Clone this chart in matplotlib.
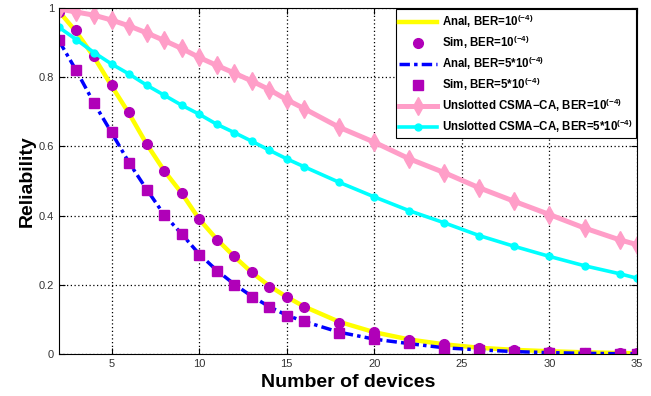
from matplotlib import pyplot as plt

plt.rcParams['font.family'] = ['Liberation Sans', 'DejaVu Sans']
plt.rcParams['mathtext.fontset'] = 'custom'
plt.rcParams['mathtext.rm'] = 'Liberation Sans:bold'
plt.rcParams['mathtext.it'] = 'Liberation Sans:bold'
plt.rcParams['mathtext.bf'] = 'Liberation Sans:bold'

devices = [2, 3, 4, 5, 6, 7, 8, 9, 10, 11, 12, 13, 14, 15, 16,
           18, 20, 22, 24, 26, 28, 30, 32, 34, 35]

anal_1 = [0.990, 0.930, 0.858, 0.775, 0.695, 0.607, 0.530, 0.465, 0.390,
          0.332, 0.282, 0.236, 0.197, 0.165, 0.137,
          0.093, 0.063, 0.042, 0.028, 0.018, 0.012, 0.008, 0.005, 0.003, 0.002]
sim_1 = [0.987, 0.935, 0.862, 0.777, 0.698, 0.606, 0.530, 0.466, 0.390,
         0.330, 0.282, 0.236, 0.195, 0.164, 0.135,
         0.091, 0.063, 0.041, 0.028, 0.018, 0.012, 0.007, 0.004, 0.003, 0.002]
anal_5 = [0.905, 0.818, 0.725, 0.640, 0.553, 0.476, 0.403, 0.347, 0.289,
          0.242, 0.202, 0.167, 0.137, 0.112, 0.094,
          0.063, 0.043, 0.030, 0.018, 0.012, 0.007, 0.004, 0.002, 0.001, 0.001]
sim_5 = [0.908, 0.821, 0.725, 0.642, 0.553, 0.474, 0.403, 0.348, 0.287,
         0.241, 0.200, 0.166, 0.135, 0.110, 0.094,
         0.062, 0.043, 0.031, 0.016, 0.012, 0.007, 0.004, 0.002, 0.001, 0.001]
unsl_1 = [0.997, 0.988, 0.979, 0.965, 0.948, 0.928, 0.906, 0.883, 0.857,
          0.834, 0.812, 0.789, 0.764, 0.735, 0.709,
          0.655, 0.612, 0.564, 0.524, 0.480, 0.441, 0.403, 0.364, 0.330, 0.316]
unsl_5 = [0.944, 0.908, 0.871, 0.838, 0.809, 0.777, 0.748, 0.719, 0.693,
          0.664, 0.640, 0.615, 0.589, 0.564, 0.541,
          0.496, 0.454, 0.414, 0.379, 0.342, 0.311, 0.282, 0.255, 0.232, 0.219]

fig = plt.figure(figsize=(6.51, 3.96), dpi=100)
ax = fig.add_axes([0.0906, 0.106, 0.888, 0.874])

ax.plot(devices, anal_1, color="#FFFF00", linewidth=3.2,
        label=r"Anal, BER=10$^{(-4)}$")
ax.plot(devices, sim_1, linestyle="none", marker="o", markersize=7,
        color="#B000B8", label=r"Sim, BER=10$^{(-4)}$")
ax.plot(devices, anal_5, color="#0000FF", linewidth=2.5, linestyle=(0, (3, 1.2, 1, 1.2)),
        label=r"Anal, BER=5*10$^{(-4)}$")
ax.plot(devices, sim_5, linestyle="none", marker="s", markersize=7,
        color="#B000B8", label=r"Sim, BER=5*10$^{(-4)}$")
ax.plot(devices, unsl_1, color="#FF9EC8", linewidth=3.6, marker="d",
        markersize=9, label=r"Unslotted CSMA$-$CA, BER=10$^{(-4)}$")
ax.plot(devices, unsl_5, color="#00FFFF", linewidth=2.6, marker="o",
        markersize=5, label=r"Unslotted CSMA$-$CA, BER=5*10$^{(-4)}$")

ax.set_xlim(2, 35)
ax.set_ylim(0, 1)
ax.set_xticks([5, 10, 15, 20, 25, 30, 35])
ax.set_yticks([0, 0.2, 0.4, 0.6, 0.8, 1])
ax.set_yticklabels(["0", "0.2", "0.4", "0.6", "0.8", "1"])
ax.tick_params(axis="both", direction="in", labelsize=8, length=4,
               top=True, right=True, labelcolor="#333333")
ax.grid(True, linestyle=(0, (1, 2)), color="black", linewidth=0.9)
ax.set_xlabel("Number of devices", fontsize=14, fontweight="bold", labelpad=4)
ax.set_ylabel("Reliability", fontsize=14, fontweight="bold", labelpad=2)

leg = ax.legend(loc="upper right", handlelength=3.3,
                fancybox=False, framealpha=1, edgecolor="black",
                borderpad=0.3, labelspacing=0.33, handletextpad=0.4,
                borderaxespad=0.1, prop={"weight": "bold", "size": 8.3})
leg.get_frame().set_linewidth(0.8)

plt.savefig("out.png", dpi=100)
